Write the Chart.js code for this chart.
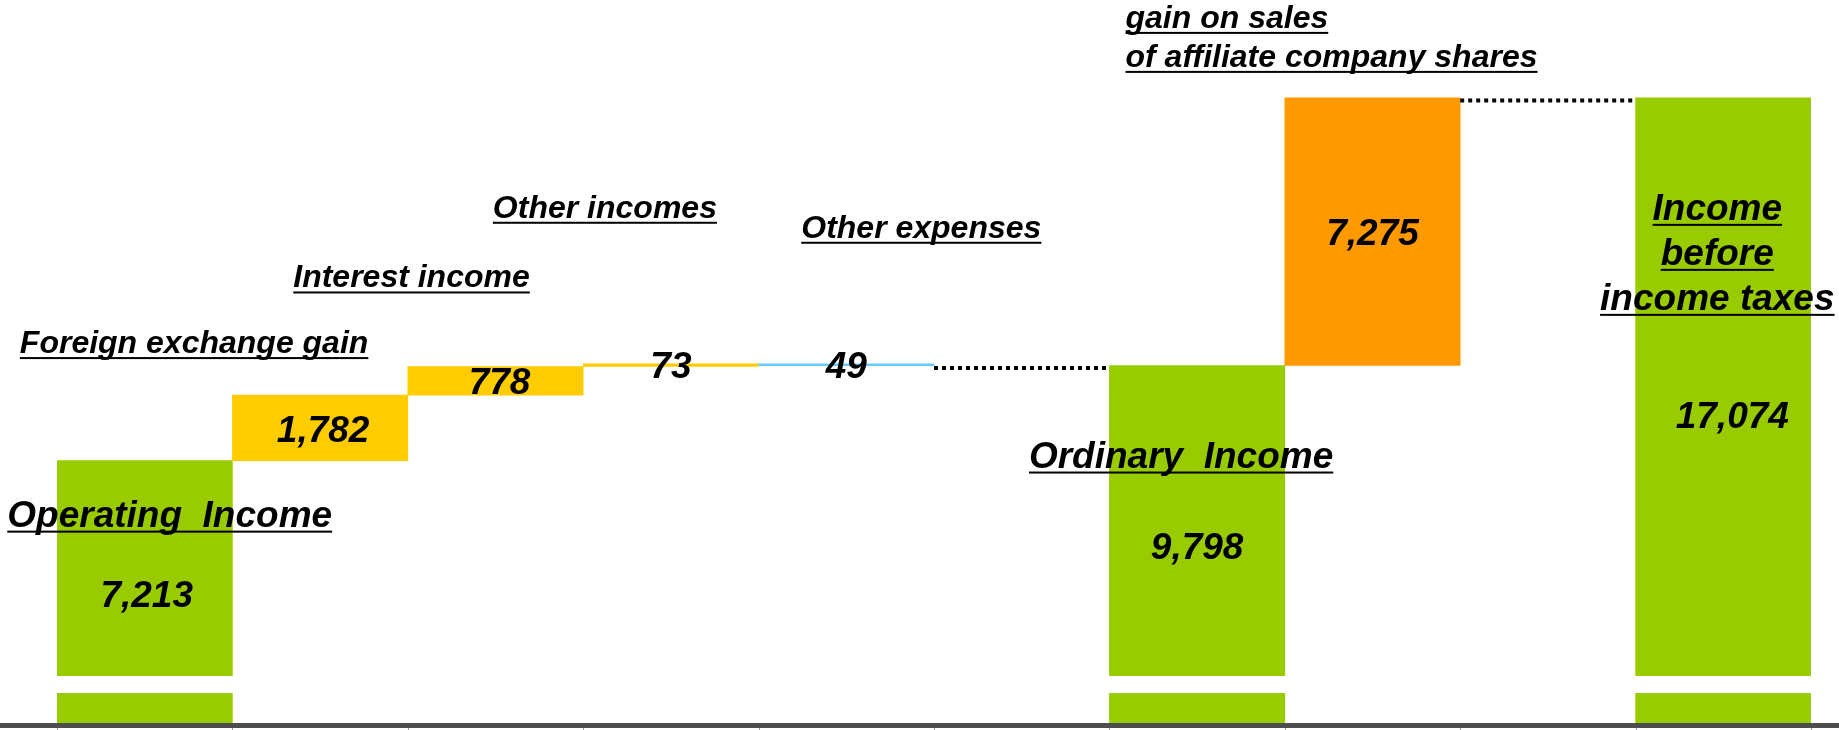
<!DOCTYPE html>
<html>
<head>
<meta charset="utf-8">
<script src="https://cdn.jsdelivr.net/npm/chart.js@4.4.0/dist/chart.umd.min.js"></script>
<style>
  html, body { margin: 0; padding: 0; background: #fff; }
  #wrap { width: 1839px; height: 730px; position: relative; }
</style>
</head>
<body>
<div id="wrap"><canvas id="waterfall"></canvas></div>
<script>
// waterfall: operating income -> ordinary income -> income before income taxes
const categories = [
  'Operating Income',
  'Foreign exchange gain',
  'Interest income',
  'Other incomes',
  'Other expenses',
  '',
  'Ordinary Income',
  'gain on sales of affiliate company shares',
  '',
  'Income before income taxes'
];
const amounts = [7213, 1782, 778, 73, -49, null, 9798, 7275, null, 17074];
const barKinds = ['total', 'gain', 'gain', 'gain', 'loss', null, 'total', 'gain', null, 'total'];

const barColors = ['#99CC00', '#FFCC00', '#FFCC00', '#FFCC00', '#66CCFF', '#FFFFFF', '#99CC00', '#FF9900', '#FFFFFF', '#99CC00'];

// floating ranges built from the amounts
let running = 0;
const ranges = amounts.map((v, i) => {
  if (v === null) return null;
  if (barKinds[i] === 'total') { running = v; return [0, v]; }
  const start = running;
  running += v;
  return [start, running];
});

const FONT = "'Liberation Sans', Arial, sans-serif";

// small nudges for value labels (px), by bar
const valueNudge = { 0: [2, 1], 1: [3, 1], 2: [4, 0], 9: [9, 3] };

// annotation texts, placed relative to their bar
const notes = [
  { lines: ['Operating  Income'], bar: 0, dx: 25, dy: 66, size: 37 },
  { lines: ['Foreign exchange gain'], bar: 1, dx: -126, dy: -42, size: 32 },
  { lines: ['Interest income'], bar: 2, dx: -84, dy: -79, size: 32 },
  { lines: ['Other incomes'], bar: 3, dx: -66, dy: -146, size: 32 },
  { lines: ['Other expenses'], bar: 4, dx: 75, dy: -126, size: 32 },
  { lines: ['Ordinary  Income'], bar: 6, dx: -16, dy: 102, size: 37 },
  { lines: ['gain on sales', 'of affiliate company shares'], bar: 7, dx: -247, dy: -70, size: 32, align: 'left', lh: 39 },
  { lines: ['Income', 'before', 'income taxes'], bar: 9, dx: -6, dy: 122, size: 37, lh: 45 }
];

const waterfallDecor = {
  id: 'waterfallDecor',
  afterDatasetsDraw(chart) {
    const ctx = chart.ctx;
    const area = chart.chartArea;
    const xs = chart.scales.x;
    const ys = chart.scales.y;
    const slotW = xs.getPixelForValue(1) - xs.getPixelForValue(0);
    ctx.save();

    // axis break band
    ctx.fillStyle = '#ffffff';
    ctx.fillRect(area.left, area.bottom - 50, area.right - area.left, 17);

    // dotted connectors across the empty slots
    ctx.strokeStyle = '#000';
    ctx.lineWidth = 4;
    ctx.setLineDash([4, 4]);
    amounts.forEach((v, i) => {
      if (v !== null || i === 0) return;
      const level = ranges[i - 1][1];
      const y = ys.getPixelForValue(level) + 2.5;
      const cx = xs.getPixelForValue(i);
      ctx.beginPath();
      ctx.moveTo(cx - slotW / 2, y);
      ctx.lineTo(cx + slotW / 2 - 3, y);
      ctx.stroke();
    });
    ctx.setLineDash([]);

    // base line
    ctx.fillStyle = '#4d4d4d';
    ctx.fillRect(0, area.bottom - 3, chart.width, 5);
    ctx.fillStyle = '#9a9a9a';
    for (let i = 0; i <= categories.length; i++) {
      const bx = Math.round(xs.getPixelForValue(0) - slotW / 2 + i * slotW);
      ctx.fillRect(bx, area.bottom + 2, 1, 3);
    }

    // value labels
    ctx.fillStyle = '#000';
    ctx.font = 'italic bold 37px ' + FONT;
    ctx.textAlign = 'center';
    ctx.textBaseline = 'alphabetic';
    ranges.forEach((r, i) => {
      if (!r) return;
      const top = ys.getPixelForValue(Math.max(r[0], r[1]));
      const bot = ys.getPixelForValue(Math.min(r[0], r[1]));
      const mid = (top + bot) / 2;
      const nd = valueNudge[i] || [0, 0];
      const txt = Math.abs(amounts[i]).toLocaleString('en-US');
      ctx.fillText(txt, xs.getPixelForValue(i) + nd[0], mid + 13 + nd[1]);
    });

    // category annotations, underlined
    notes.forEach(n => {
      const r = ranges[n.bar];
      const top = ys.getPixelForValue(Math.max(r[0], r[1]));
      const cx = xs.getPixelForValue(n.bar) + n.dx;
      ctx.font = 'italic bold ' + n.size + 'px ' + FONT;
      ctx.textAlign = 'left';
      n.lines.forEach((line, k) => {
        const y = top + n.dy + k * (n.lh || 0);
        const w = ctx.measureText(line).width;
        const x0 = n.align === 'left' ? cx : cx - w / 2;
        ctx.fillText(line, x0, y);
        ctx.fillRect(x0, y + 4, w, 2);
      });
    });

    ctx.restore();
  }
};

new Chart(document.getElementById('waterfall'), {
  type: 'bar',
  data: {
    labels: categories,
    datasets: [{
      data: ranges,
      backgroundColor: barColors,
      borderWidth: 0,
      barPercentage: 1,
      categoryPercentage: 1
    }]
  },
  options: {
    responsive: true,
    maintainAspectRatio: false,
    animation: false,
    layout: { padding: { left: 57, right: 28, top: 27, bottom: 4 } },
    plugins: { legend: { display: false }, tooltip: { enabled: false } },
    scales: {
      x: { display: false },
      y: { display: false, min: 0, max: 19000 }
    }
  },
  plugins: [waterfallDecor]
});
</script>
</body>
</html>
